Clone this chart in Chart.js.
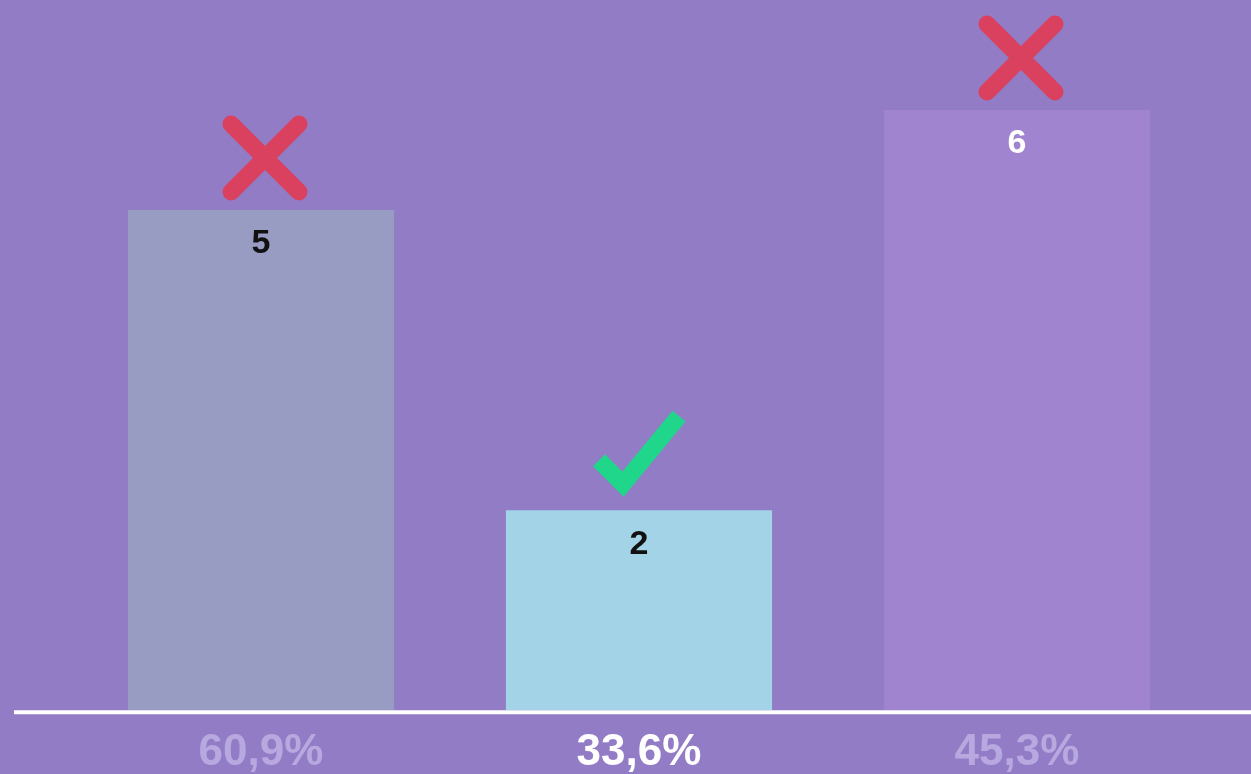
<!DOCTYPE html>
<html>
<head>
<meta charset="utf-8">
<script src="https://cdn.jsdelivr.net/npm/chart.js@4/dist/chart.umd.min.js"></script>
<style>
  html, body { margin: 0; padding: 0; background: #937cc6; }
  canvas { display: block; }
</style>
</head>
<body>
<canvas id="chart" width="1251" height="774"></canvas>
<script>
// data
const categories = ['60,9%', '33,6%', '45,3%'];
const values = [5, 2, 6];
const marks = ['cross', 'check', 'cross'];

const barColors = ['#999cc2', '#a2d3e6', '#a084d0'];
const valueColors = ['#111111', '#111111', '#ffffff'];
const tickColors = ['#b8a8e0', '#ffffff', '#b8a8e0'];

// white base line, value labels, and cross / check marks
const decor = {
    id: 'decor',
    afterDatasetsDraw(chart) {
        const ctx = chart.ctx;
        const area = chart.chartArea;
        ctx.save();
        ctx.strokeStyle = '#ffffff';
        ctx.lineWidth = 4;
        ctx.beginPath();
        ctx.moveTo(14, area.bottom + 2);
        ctx.lineTo(chart.width, area.bottom + 2);
        ctx.stroke();

        chart.getDatasetMeta(0).data.forEach((bar, i) => {
            // value
            ctx.fillStyle = valueColors[i];
            ctx.font = 'bold 34px "Liberation Sans", Arial, sans-serif';
            ctx.textAlign = 'center';
            ctx.textBaseline = 'middle';
            ctx.fillText(String(values[i]), bar.x, bar.y + 34);

            // mark
            ctx.lineCap = 'round';
            ctx.lineWidth = 17;
            if (marks[i] === 'cross') {
                const cx = bar.x + 4, cy = bar.y - 52, r = 34;
                ctx.strokeStyle = '#d9415f';
                ctx.beginPath();
                ctx.moveTo(cx - r, cy - r);
                ctx.lineTo(cx + r, cy + r);
                ctx.moveTo(cx + r, cy - r);
                ctx.lineTo(cx - r, cy + r);
                ctx.stroke();
            } else {
                ctx.strokeStyle = '#1fd68a';
                ctx.lineCap = 'butt';
                ctx.lineJoin = 'miter';
                ctx.beginPath();
                ctx.moveTo(bar.x - 40, bar.y - 50);
                ctx.lineTo(bar.x - 16, bar.y - 26);
                ctx.lineTo(bar.x + 40, bar.y - 94);
                ctx.stroke();
            }
        });
        ctx.restore();
    }
};

new Chart(document.getElementById('chart'), {
    type: 'bar',
    data: {
        labels: categories,
        datasets: [{
            data: values,
            backgroundColor: barColors,
            borderWidth: 0,
            barPercentage: 0.704,
            categoryPercentage: 1
        }]
    },
    options: {
        responsive: false,
        animation: false,
        layout: { padding: { left: 72, right: 45, top: 0, bottom: -13 } },
        plugins: { legend: { display: false }, tooltip: { enabled: false } },
        scales: {
            y: { display: false, min: 0, max: 7.1 },
            x: {
                grid: { display: false },
                border: { display: false },
                ticks: {
                    color: tickColors,
                    padding: 8,
                    font: { family: '"Liberation Sans", Arial, sans-serif', size: 44, weight: 'bold' }
                }
            }
        }
    },
    plugins: [decor]
});
</script>
</body>
</html>
